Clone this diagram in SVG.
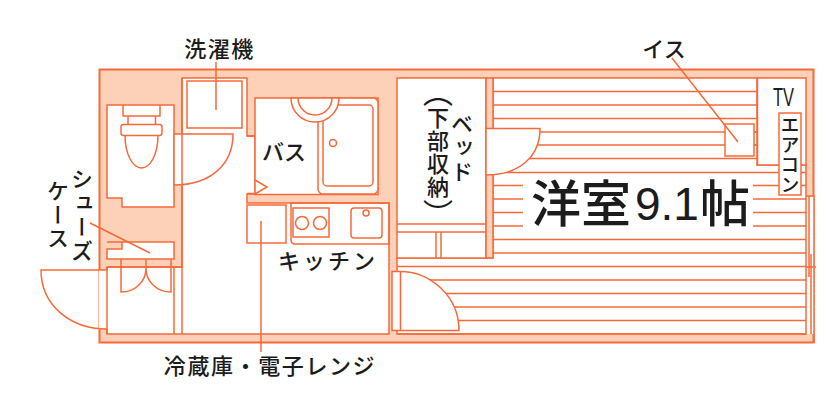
<svg xmlns="http://www.w3.org/2000/svg" width="840" height="411" viewBox="0 0 840 411">
<style>
.s{fill:none;stroke:#f8693a;stroke-width:1.5}
.w{fill:#fff;stroke:#f8693a;stroke-width:1.5}
.n{fill:#fff;stroke:none}
.t{font-family:"Noto Sans CJK JP","Noto Sans",sans-serif;fill:#1c1c1c;font-size:22px;font-weight:500}
.v{writing-mode:vertical-rl}
.p{font-size:30px;font-weight:400;letter-spacing:0}
</style>
<g id="plan">
<rect x="99.500" y="69.500" width="714" height="273" fill="#fdd0b8" stroke="#f8693a" stroke-width="2"/>
<path class="w" d="M182 78H247V136H255V194H247V203H389V334H107V267H182Z"/>
<path class="n" d="M99 270H108V329H99ZM183 200H246V266H183Z"/>
<path class="s" d="M107 267H182M107 267V334M174 267V334"/>
<rect class="n" x="806" y="196" width="8" height="138"/>
<path class="s" d="M806 196H814V343M809 196V277M811 254V334M804 267H816"/>
</g>
<g id="toilet">
<path class="w" d="M107 105H174V207H122V198H107Z"/>
<path class="s" d="M123 105V116H160V105M128 116V125M155.500 116V125M125 135C125 155 133 168 141.500 168C150 168 158 155 158 135"/>
<rect class="w" x="121" y="124.500" width="41" height="11" rx="2.500"/>
<path class="w" d="M174 134H233C233 165 210 185 174 185Z"/>
<path class="s" d="M182 78V334"/>
</g>
<g id="washer">
<rect class="s" x="187" y="81" width="55" height="47"/>
</g>
<g id="bath">
<rect class="w" x="255" y="98" width="123" height="96.500"/>
<rect class="w" x="318" y="98" width="60" height="96" rx="5"/>
<rect class="s" x="323" y="105" width="50" height="81" rx="4"/>
<circle class="s" cx="333" cy="143" r="3.500"/>
<path class="w" d="M291 98A24 24 0 0 0 339 98Z"/>
<path class="s" d="M298 98A17 17 0 0 0 332 98"/>
<path class="s" d="M255 180L267 187L255 194M247 136H255M247 193.500H255"/>
</g>
<g id="kitchen">
<rect class="s" x="247" y="205" width="39" height="38"/>
<path class="s" d="M291 203H389V244H295Q291 244 291 240Z"/>
<rect class="s" x="293" y="208" width="36" height="29"/>
<circle class="s" cx="302" cy="223" r="6.500"/>
<circle class="s" cx="320" cy="223" r="6.500"/>
<rect class="s" x="351" y="208" width="31" height="30" rx="3"/>
<circle class="s" cx="366" cy="213" r="3"/>
</g>
<g id="entry">
<path class="w" d="M107 242H174V259H107V249H122V242Z"/>
<path class="s" d="M121 259V292C135 292 146 282 146 268V259M171 259V292C157 292 146 282 146 268"/>
<path class="s" d="M107 270H41C41 305 70 329 107 329"/>
</g>
<g id="room">
<path class="w" d="M397 258H493V78H757V165H806V334H397Z"/>
<path class="s" d="M493 91.500H757M493 105H757M493 118.500H757M493 132H757M493 145H757M493 158.500H757M493 172.500H806M493 185.500H523M753 185.500H806M493 199H523M753 199H806M493 212.500H523M753 212.500H806M493 226H523M753 226H806M493 239.500H806M493 253H806M397 266.500H806M420 280H806M420 293.500H806M420 307H806M420 320.500H806"/>
<rect class="w" x="757.500" y="78" width="48.500" height="87"/>
<path class="s" d="M754 132H757.500M754 145H757.500"/>
<rect class="w" x="725" y="124" width="29" height="32"/>
<rect class="w" x="779" y="113" width="22" height="82"/>
<rect class="w" x="397" y="78" width="89" height="180"/>
<path class="s" d="M397 224H486M397 232H486M436 232V258M441 232V258"/>
<rect x="486" y="78" width="7" height="180" fill="#fdd0b8" stroke="#f8693a" stroke-width="1.500"/>
<path class="n" d="M487 129H493V175H487Z"/>
<path class="w" d="M486 128.500H540C540 156 520 175 486 175Z"/>
<path class="n" d="M394 272H400V330H394Z"/>
<path class="w" d="M392 271.500H400C430 271.500 459 296 459 330.500H392Z"/>
<path class="s" d="M400.500 271.500V330.500M397 334H806"/>
</g>
<g id="connectors">
<path class="s" d="M216 62V110M90 223L150 253M261 221V352M672 58L738 142"/>
</g>
<g id="labels">
<text class="t" x="219.500" y="57" text-anchor="middle" letter-spacing="1.500">洗濯機</text>
<text class="t" x="664" y="57" text-anchor="middle">イス</text>
<text class="t" x="284" y="160" text-anchor="middle">バス</text>
<text class="t" x="328" y="269" text-anchor="middle" letter-spacing="3">キッチン</text>
<text class="t" x="270" y="374" text-anchor="middle" letter-spacing="1.600">冷蔵庫・電子レンジ</text>
<text class="t" x="531" y="222" style="font-size:50px">洋室</text>
<text x="635" y="220" font-family="Liberation Sans,sans-serif" font-size="46" fill="#1c1c1c">9.1</text>
<text class="t" x="700" y="222" style="font-size:50px">帖</text>
<text x="783.500" y="106" text-anchor="middle" font-family="Liberation Sans,sans-serif" font-size="26" fill="#1c1c1c" textLength="21" lengthAdjust="spacingAndGlyphs">TV</text>
<text class="t v" x="82" y="168" letter-spacing="2">シューズ</text>
<text class="t v" x="58" y="180" letter-spacing="1.500">ケース</text>
<text class="t v" x="462" y="113" letter-spacing="2">ベッド</text>
<text class="t v" x="438" y="77" letter-spacing="1"><tspan class="p">（</tspan>下部収納<tspan class="p">）</tspan></text>
<text class="t v" x="790" y="115" letter-spacing="1" style="font-size:19px">エアコン</text>
</g>
</svg>
